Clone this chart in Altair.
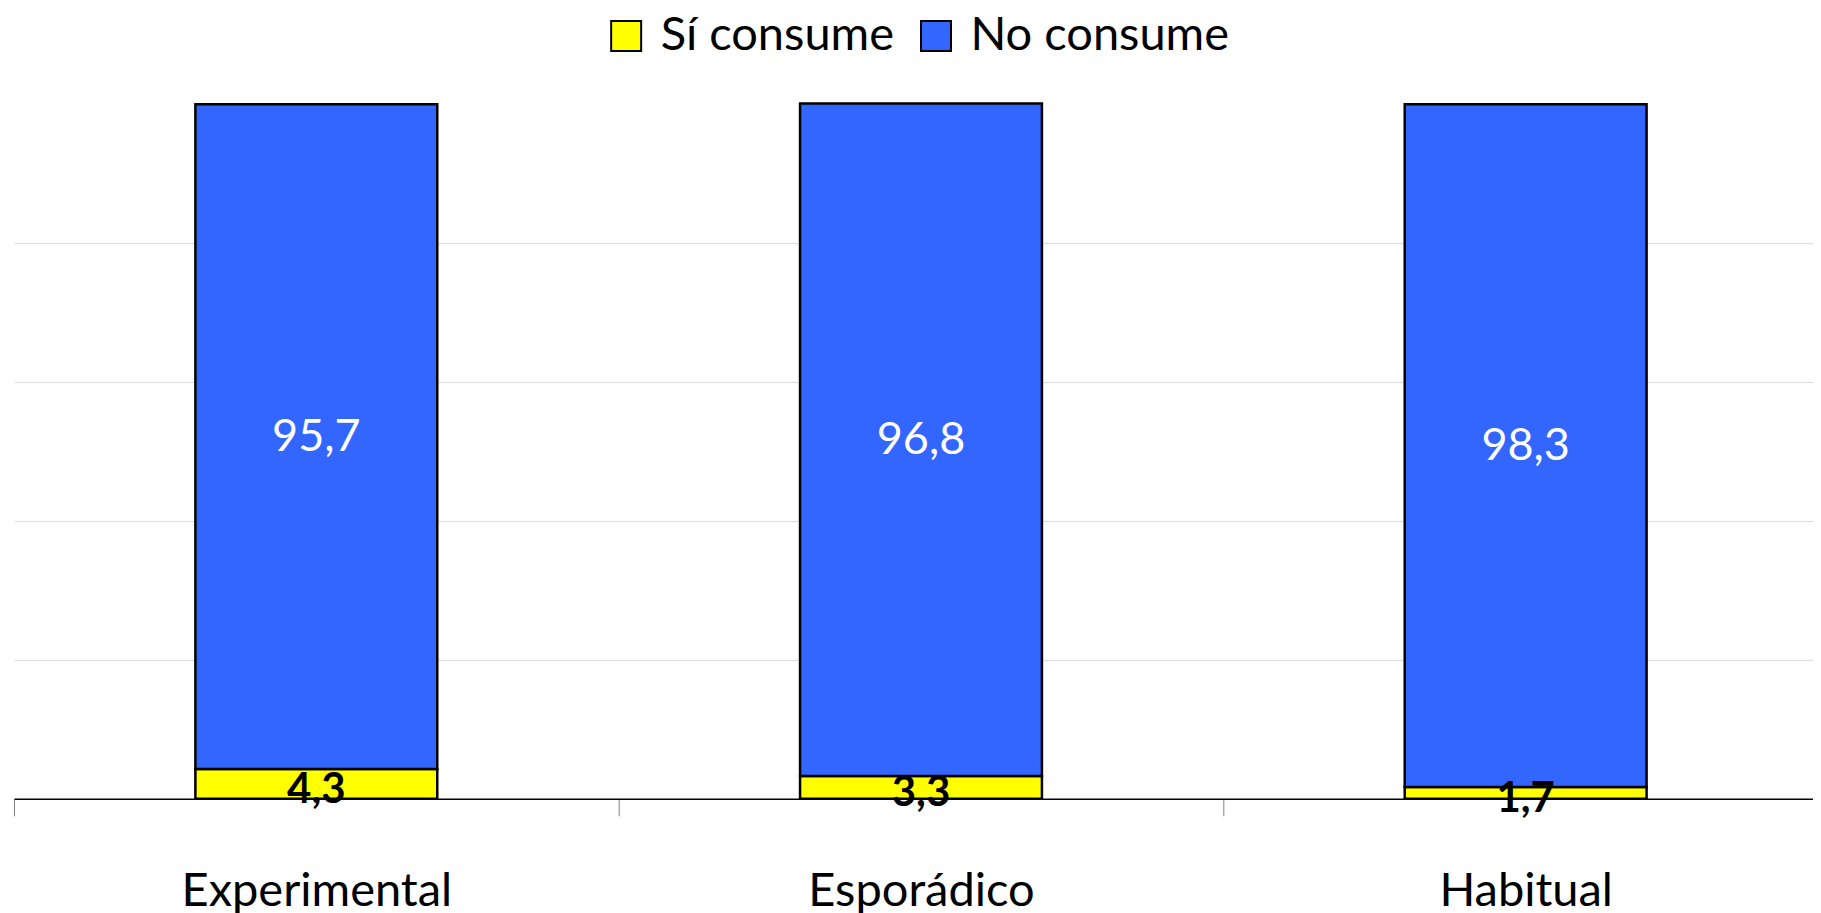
import altair as alt
import pandas as pd

categories = ["Experimental", "Esporádico", "Habitual"]
si_consume = [4.3, 3.3, 1.7]
no_consume = [95.7, 96.8, 98.3]
series = ["Sí consume", "No consume"]
colors = ["#FFFF00", "#3366FF"]

rows = []
for c, s, n in zip(categories, si_consume, no_consume):
    rows.append({"cat": c, "serie": series[0], "value": s, "ord": 0})
    rows.append({"cat": c, "serie": series[1], "value": n, "ord": 1})
df = pd.DataFrame(rows)

FONT = "Lato"

base = alt.Chart(df).transform_stack(
    stack="value", groupby=["cat"], as_=["y0", "y1"], sort=[alt.SortField("ord")]
).transform_calculate(
    mid="(datum.y0 + datum.y1) / 2",
    label="replace(format(datum.value, '.1f'), '.', ',')",
)

xscale = alt.Scale(paddingInner=0, paddingOuter=0, range=[0, 1815])

xenc = alt.X(
    "cat:N",
    sort=categories,
    title=None,
    scale=xscale,
    axis=alt.Axis(
        labelAngle=0,
        labelFont=FONT,
        labelFontSize=47,
        labelColor="black",
        labelPadding=53,
        labelLimit=0,
        tickBand="extent",
        tickSize=17,
        tickColor="#808080",
        tickWidth=1,
        domainColor="black",
        domainWidth=1.5,
        grid=False,
    ),
)

bars = base.mark_bar(stroke="black", strokeWidth=2.5, width=alt.RelativeBandSize(0.4)).encode(
    x=xenc,
    y=alt.Y(
        "y0:Q",
        scale=alt.Scale(domain=[0, 100], nice=False),
        title=None,
        axis=alt.Axis(
            values=[20, 40, 60, 80],
            labels=False,
            ticks=False,
            domain=False,
            grid=True,
            gridColor="#d9d9d9",
            gridWidth=1,
        ),
    ),
    y2="y1:Q",
    color=alt.Color(
        "serie:N",
        scale=alt.Scale(domain=series, range=colors),
        legend=alt.Legend(
            title=None,
            orient="none",
            legendX=589,
            legendY=-92,
            direction="horizontal",
            symbolType="square",
            symbolSize=900,
            symbolStrokeColor="black",
            symbolStrokeWidth=2,
            symbolOpacity=1,
            labelFont=FONT,
            labelFontSize=47,
            labelColor="black",
            labelOffset=11,
            columnPadding=18,
            labelLimit=400,
        ),
    ),
    order=alt.Order("ord:Q"),
)

text_no = base.transform_filter(alt.datum.ord == 1).mark_text(
    font=FONT, fontSize=45, color="white", baseline="middle"
).encode(x=alt.X("cat:N", sort=categories), y="mid:Q", text="label:N")

text_si = base.transform_filter(alt.datum.ord == 0).mark_text(
    font=FONT, fontSize=42, fontWeight="bold", color="black", baseline="middle", dy=6
).encode(x=alt.X("cat:N", sort=categories), y="mid:Q", text="label:N")

chart = alt.layer(bars, text_no, text_si).properties(
    width=1800,
    height=695,
    autosize=alt.AutoSizeParams(type="none"),
    padding={"left": 6, "top": 96, "right": 0, "bottom": 114},
).configure_view(stroke=None)

chart.save("out.html", embed_options={"renderer": "svg", "actions": False})
